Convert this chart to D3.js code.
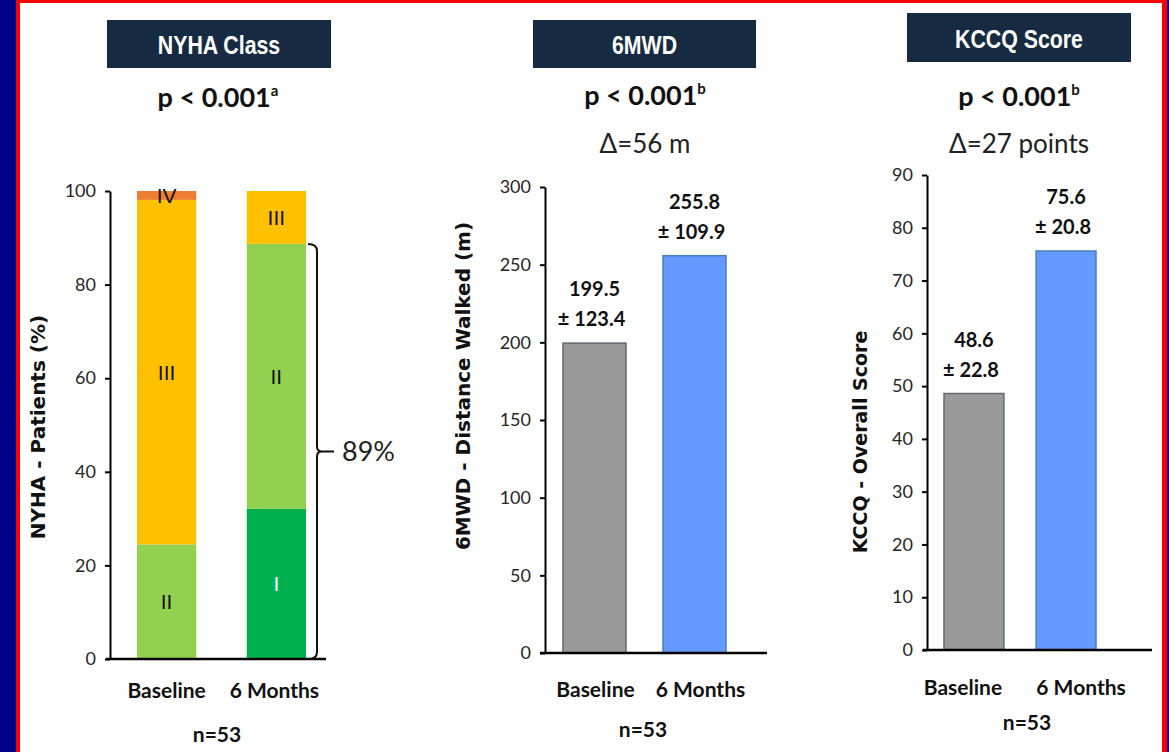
<!DOCTYPE html>
<html lang="en">
<head>
<meta charset="UTF-8">
<title>NYHA, 6MWD and KCCQ</title>
<style>
  body { margin: 0; background: #000088; }
  svg { display: block; }
  .tick text { font-family: Lato, sans-serif; font-size: 18px; fill: #262626; }
</style>
<script src="https://cdn.jsdelivr.net/npm/d3@7"></script>
</head>
<body>
<div id="graphic"></div>
<script>
// data
var groups = ['Baseline', '6 Months'];
var nyhaClasses = ['I', 'II', 'III', 'IV'];
var nyhaBaseline = [0, 24.5, 73.6, 1.9];
var nyhaSixMonths = [32.1, 56.6, 11.3, 0];
var nyhaTicks = [0, 20, 40, 60, 80, 100];
var improvedLabel = '89%';
var mwdMeans = [199.5, 255.8];
var mwdSds = [123.4, 109.9];
var mwdTicks = [0, 50, 100, 150, 200, 250, 300];
var kccqMeans = [48.6, 75.6];
var kccqSds = [22.8, 20.8];
var kccqTicks = [0, 10, 20, 30, 40, 50, 60, 70, 80, 90];
var sampleLabel = 'n=53';

var width = 1169, height = 752;
var svg = d3.select('#graphic').append('svg')
    .attr('width', width).attr('height', height);

// frame: blue edges, red border, white slide
svg.append('rect').attr('width', width).attr('height', height).attr('fill', '#000088');
svg.append('rect').attr('x', 16).attr('y', 0).attr('width', 1151).attr('height', height).attr('fill', '#ff0000');
svg.append('rect').attr('x', 20).attr('y', 3).attr('width', 1142).attr('height', height).attr('fill', '#ffffff');

var bodyFont = 'Lato, sans-serif';

function header(p) {
    svg.append('rect')
        .attr('x', p.box[0]).attr('y', p.box[1]).attr('width', p.box[2]).attr('height', p.box[3])
        .attr('fill', '#162b41');
    // narrow look: squeeze the bold sans horizontally
    svg.append('text')
        .attr('transform', 'translate(' + (p.box[0] + p.box[2] / 2) + ',' + p.titleY + ') scale(0.82,1)')
        .attr('text-anchor', 'middle')
        .attr('font-family', "'Liberation Sans', sans-serif")
        .attr('font-weight', 'bold').attr('font-size', 26).attr('fill', '#fff')
        .text(p.title);
    var pt = svg.append('text')
        .attr('x', p.cx).attr('y', p.pY)
        .attr('text-anchor', 'middle')
        .attr('font-family', bodyFont).attr('font-weight', 'bold').attr('font-size', 27).attr('fill', '#111');
    pt.append('tspan').text('p < 0.001');
    pt.append('tspan').attr('font-size', 15).attr('dy', -11).text(p.sup);
    if (p.delta) {
        svg.append('text')
            .attr('x', p.cx).attr('y', p.deltaY)
            .attr('text-anchor', 'middle')
            .attr('font-family', bodyFont).attr('font-size', 26).attr('fill', '#222')
            .text(p.delta);
    }
}

function frameAxes(p, y, x) {
    var g = svg.append('g');
    g.append('g')
        .attr('transform', 'translate(' + p.axisX + ',0)')
        .call(d3.axisLeft(y).tickValues(p.ticks).tickSize(5).tickSizeOuter(0).tickPadding(9))
        .call(function (a) {
            a.select('.domain').attr('stroke', '#000').attr('stroke-width', 2);
            a.selectAll('.tick line').attr('stroke', '#000').attr('stroke-width', 2);
        });
    g.append('line')
        .attr('x1', p.xLine[0]).attr('x2', p.xLine[1])
        .attr('y1', y(0)).attr('y2', y(0))
        .attr('stroke', '#000').attr('stroke-width', 2.5);

    groups.forEach(function (grp, i) {
        svg.append('text')
            .attr('x', x(grp) + x.bandwidth() / 2 + p.labelDx[i]).attr('y', p.catY)
            .attr('text-anchor', 'middle')
            .attr('font-family', bodyFont).attr('font-weight', 'bold').attr('font-size', 21).attr('fill', '#111')
            .text(grp);
    });
    svg.append('text')
        .attr('x', p.nX).attr('y', p.nY)
        .attr('text-anchor', 'middle')
        .attr('font-family', bodyFont).attr('font-weight', 'bold').attr('font-size', 21).attr('fill', '#111')
        .text(sampleLabel);
    svg.append('text')
        .attr('transform', 'translate(' + p.yLabel[0] + ',' + p.yLabel[1] + ') rotate(-90)')
        .attr('text-anchor', 'middle')
        .attr('font-family', "'DejaVu Sans', sans-serif").attr('font-weight', 'bold')
        .attr('font-size', p.yLabel[2]).attr('fill', '#111')
        .text(p.yTitle);
}

// ---- NYHA stacked bars ----
var nyha = {
    title: 'NYHA Class', box: [107, 20, 224, 48], titleY: 54, cx: 218, pY: 107, sup: 'a',
    axisX: 110, ticks: nyhaTicks, xLine: [106, 326], catY: 698, labelDx: [0, -2],
    nX: 217, nY: 742, yLabel: [45, 427, 20], yTitle: 'NYHA - Patients (%)'
};
header(nyha);
var yN = d3.scaleLinear().domain([0, 100]).range([659, 191]);
var xN = d3.scaleBand().domain(groups).range([137, 306]).paddingInner(0.46);
var classColor = d3.scaleOrdinal().domain(nyhaClasses)
    .range(['#00b050', '#92d050', '#ffc000', '#ed7d31']);

var rows = groups.map(function (grp, i) {
    var vals = i === 0 ? nyhaBaseline : nyhaSixMonths;
    var r = { group: grp };
    nyhaClasses.forEach(function (c, j) { r[c] = vals[j]; });
    return r;
});
var series = d3.stack().keys(nyhaClasses)(rows);

var segs = svg.append('g').selectAll('g')
    .data(series).join('g')
    .attr('fill', function (s) { return classColor(s.key); });
segs.selectAll('rect')
    .data(function (s) { return s.map(function (d) { d.key = s.key; return d; }); })
    .join('rect')
    .attr('x', function (d) { return xN(d.data.group); })
    .attr('width', xN.bandwidth())
    .attr('y', function (d) { return yN(d[1]); })
    .attr('height', function (d) { return yN(d[0]) - yN(d[1]); });
segs.selectAll('text')
    .data(function (s) { return s.filter(function (d) { return d[1] - d[0] > 0; }); })
    .join('text')
    .attr('x', function (d) { return xN(d.data.group) + xN.bandwidth() / 2; })
    .attr('y', function (d) { return (yN(d[0]) + yN(d[1])) / 2; })
    .attr('dy', '0.36em')
    .attr('text-anchor', 'middle')
    .attr('font-family', "'Liberation Sans', sans-serif")
    .attr('font-size', 21)
    .attr('fill', function (d) { return d.key === 'I' ? '#fff' : '#111'; })
    .text(function (d) { return d.key; });

frameAxes(nyha, yN, xN);

// brace for class I + II at 6 months
var bx = xN(groups[1]) + xN.bandwidth() + 2;
var byTop = yN(nyhaSixMonths[0] + nyhaSixMonths[1]);
var byBot = yN(0);
var bym = (byTop + byBot) / 2;
svg.append('path')
    .attr('d', 'M' + bx + ',' + byTop + ' Q' + (bx + 9) + ',' + byTop + ' ' + (bx + 9) + ',' + (byTop + 7) +
        ' L' + (bx + 9) + ',' + (bym - 5) + ' Q' + (bx + 9) + ',' + bym + ' ' + (bx + 14) + ',' + bym +
        ' Q' + (bx + 9) + ',' + bym + ' ' + (bx + 9) + ',' + (bym + 5) +
        ' L' + (bx + 9) + ',' + (byBot - 7) + ' Q' + (bx + 9) + ',' + byBot + ' ' + bx + ',' + byBot +
        ' M' + (bx + 14) + ',' + bym + ' L' + (bx + 26) + ',' + bym)
    .attr('fill', 'none').attr('stroke', '#111').attr('stroke-width', 2);
svg.append('text')
    .attr('x', bx + 34).attr('y', bym + 10)
    .attr('font-family', bodyFont).attr('font-size', 27).attr('fill', '#222')
    .text(improvedLabel);

// ---- mean bars ----
function meanBars(p, means, sds, y, x) {
    header(p);
    var g = svg.append('g');
    g.selectAll('rect')
        .data(means).join('rect')
        .attr('x', function (d, i) { return x(groups[i]); })
        .attr('width', x.bandwidth())
        .attr('y', function (d) { return y(d); })
        .attr('height', function (d) { return y(0) - y(d); })
        .attr('fill', function (d, i) { return i === 0 ? '#999999' : '#6699ff'; })
        .attr('stroke', function (d, i) { return i === 0 ? '#60686c' : '#4a7ebb'; })
        .attr('stroke-width', 1.5);
    g.selectAll('text.mean')
        .data(means).join('text').attr('class', 'mean')
        .attr('x', function (d, i) { return x(groups[i]) + x.bandwidth() / 2; })
        .attr('y', function (d) { return y(d) - 47; })
        .attr('text-anchor', 'middle')
        .attr('font-family', bodyFont).attr('font-weight', 'bold').attr('font-size', 20).attr('fill', '#111')
        .text(function (d) { return d.toFixed(1); });
    g.selectAll('text.sd')
        .data(sds).join('text').attr('class', 'sd')
        .attr('x', function (d, i) { return x(groups[i]) + x.bandwidth() / 2 - 3; })
        .attr('y', function (d, i) { return y(means[i]) - 17; })
        .attr('text-anchor', 'middle')
        .attr('font-family', bodyFont).attr('font-weight', 'bold').attr('font-size', 20).attr('fill', '#111')
        .text(function (d) { return '\u00b1 ' + d.toFixed(1); });
    frameAxes(p, y, x);
}

var mwd = {
    title: '6MWD', box: [533, 20, 223, 48], titleY: 54, cx: 645, pY: 105, sup: 'b',
    delta: '\u0394=56 m', deltaY: 153,
    axisX: 545, ticks: mwdTicks, xLine: [540, 767], catY: 697, labelDx: [1, 6],
    nX: 643, nY: 737, yLabel: [470, 386, 20], yTitle: '6MWD - Distance Walked (m)'
};
meanBars(mwd, mwdMeans, mwdSds,
    d3.scaleLinear().domain([0, 300]).range([653, 187]),
    d3.scaleBand().domain(groups).range([563, 726]).paddingInner(0.37));

var kccq = {
    title: 'KCCQ Score', box: [907, 13, 224, 49], titleY: 48, cx: 1019, pY: 106, sup: 'b',
    delta: '\u0394=27 points', deltaY: 153,
    axisX: 927, ticks: kccqTicks, xLine: [923, 1152], catY: 695, labelDx: [-11, 15],
    nX: 1027, nY: 730, yLabel: [867, 442, 19], yTitle: 'KCCQ - Overall Score'
};
meanBars(kccq, kccqMeans, kccqSds,
    d3.scaleLinear().domain([0, 90]).range([650, 175]),
    d3.scaleBand().domain(groups).range([944, 1096]).paddingInner(0.35));
</script>
</body>
</html>
